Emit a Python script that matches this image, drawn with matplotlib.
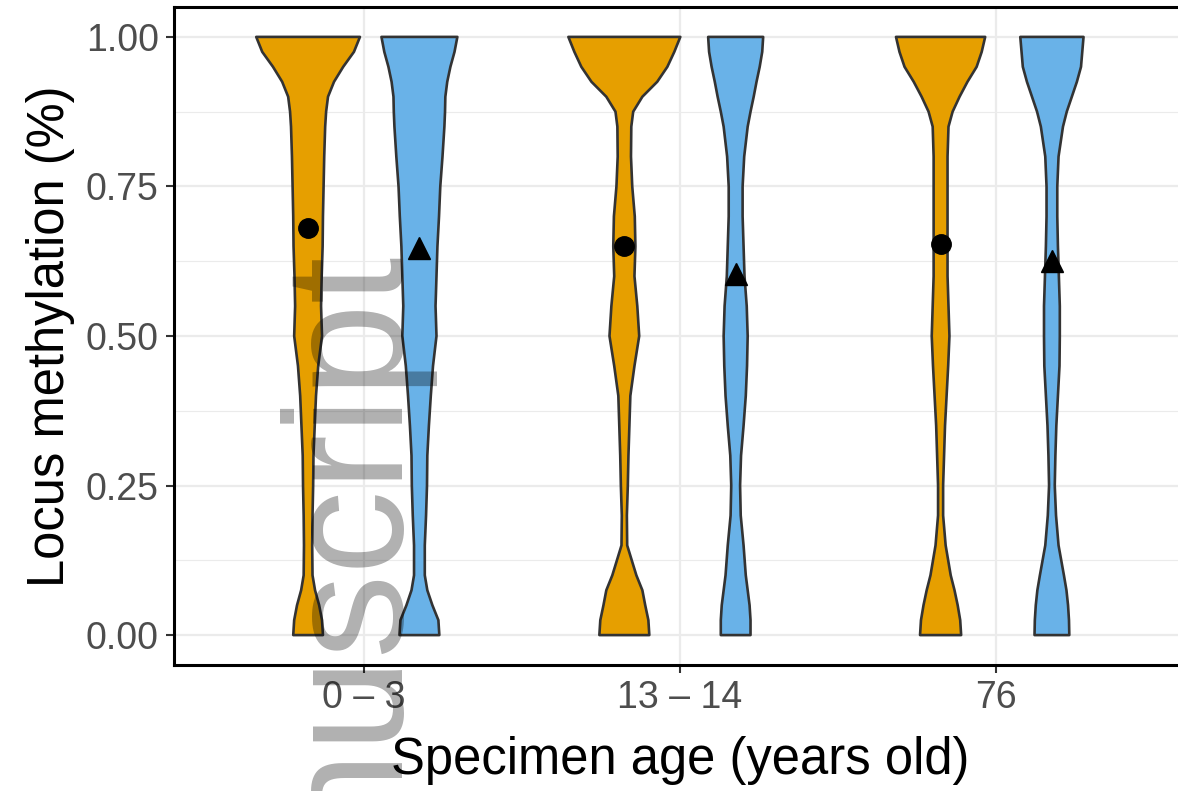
#!/usr/bin/env python

import numpy as np
from matplotlib import pyplot as plt

plt.rcParams['font.family'] = ['Liberation Sans', 'DejaVu Sans']

groups = ['0 \u2013 3', '13 \u2013 14', '76']

# y levels where the violin half-widths were read (shared by all violins)
levels = [0, 0.025, 0.05, 0.075, 0.1, 0.15, 0.2, 0.25, 0.3, 0.35, 0.4, 0.45, 0.5,
          0.55, 0.6, 0.65, 0.7, 0.75, 0.8, 0.85, 0.875, 0.9, 0.925, 0.95, 0.975, 1.0]

# half-widths in category units (orange = first series, blue = second series)
orange_hw = [
    [.047, .044, .035, .022, .014, .013, .014, .016, .017, .021, .025, .032, .044,
     .041, .043, .046, .047, .049, .051, .054, .057, .063, .082, .111, .145, .164],
    [.079, .076, .066, .057, .038, .009, .008, .011, .013, .016, .019, .032, .047,
     .041, .032, .035, .033, .025, .021, .022, .028, .057, .104, .136, .158, .177],
    [.065, .062, .054, .044, .032, .016, .008, .008, .011, .014, .019, .024, .028,
     .025, .022, .022, .022, .022, .022, .025, .038, .060, .085, .114, .130, .141],
]
blue_hw = [
    [.063, .060, .041, .025, .017, .017, .021, .024, .025, .030, .036, .043, .054,
     .051, .054, .057, .062, .066, .073, .079, .081, .082, .088, .098, .111, .120],
    [.047, .047, .044, .038, .032, .025, .016, .014, .017, .025, .032, .036, .038,
     .035, .028, .025, .022, .022, .027, .038, .047, .057, .066, .076, .084, .087],
    [.055, .054, .051, .046, .038, .021, .013, .009, .011, .014, .019, .024, .025,
     .025, .022, .019, .017, .017, .021, .035, .047, .063, .079, .092, .096, .100],
]

orange_means = [0.681, 0.651, 0.654]
blue_means = [0.647, 0.604, 0.626]

orange = '#E69F00'
blue = '#69B2E8'
dodge = 0.176

fig = plt.figure(figsize=(11.78, 7.91), dpi=100)
ax = fig.add_axes([174 / 1178, 1 - 665 / 791, (1186 - 174) / 1178, 658 / 791])

y = np.array(levels)
for i in range(len(groups)):
    for hw, col, off in [(orange_hw[i], orange, -dodge), (blue_hw[i], blue, dodge)]:
        hw = np.array(hw)
        c = i + 1 + off
        xs = np.concatenate([c + hw, (c - hw)[::-1]])
        ys = np.concatenate([y, y[::-1]])
        ax.fill(xs, ys, facecolor=col, edgecolor='#333333', lw=1.9, zorder=3,
                joinstyle='round')

pos = np.arange(1, len(groups) + 1)
ax.plot(pos - dodge, orange_means, 'o', color='black', ms=14, zorder=4)
ax.plot(pos + dodge, blue_means, '^', color='black', ms=16, zorder=4)

ax.set_xlim(0.4, 3.6)
ax.set_ylim(-0.05, 1.05)
ax.set_xticks(pos)
ax.set_xticklabels(groups)
ax.set_yticks([0, 0.25, 0.5, 0.75, 1.0])
ax.set_yticklabels(['0.00', '0.25', '0.50', '0.75', '1.00'])
ax.set_yticks([0.125, 0.375, 0.625, 0.875], minor=True)
ax.grid(True, which='major', color='#EBEBEB', lw=1.6, zorder=0)
ax.grid(True, which='minor', axis='y', color='#EBEBEB', lw=0.8, zorder=0)
ax.set_axisbelow(True)
ax.tick_params(axis='both', which='major', labelsize=27, labelcolor='#4D4D4D',
               color='#333333', width=1.5, length=6, pad=5)
ax.tick_params(axis='y', which='minor', length=0)
for s in ['left', 'bottom', 'top']:
    ax.spines[s].set_linewidth(2.2)
    ax.spines[s].set_color('black')
ax.spines['right'].set_visible(False)

ax.set_xlabel('Specimen age (years old)', fontsize=36.5, labelpad=14)
ax.set_ylabel('Locus methylation (%)', fontsize=36.5, labelpad=8)

# watermark
fig.text(389 / 1178, 1 - 243 / 791, 'Manuscript', rotation=90, rotation_mode='anchor',
         ha='right', va='baseline', fontsize=121, color='black', alpha=0.31, zorder=10)

fig.savefig('out.png', dpi=100)
